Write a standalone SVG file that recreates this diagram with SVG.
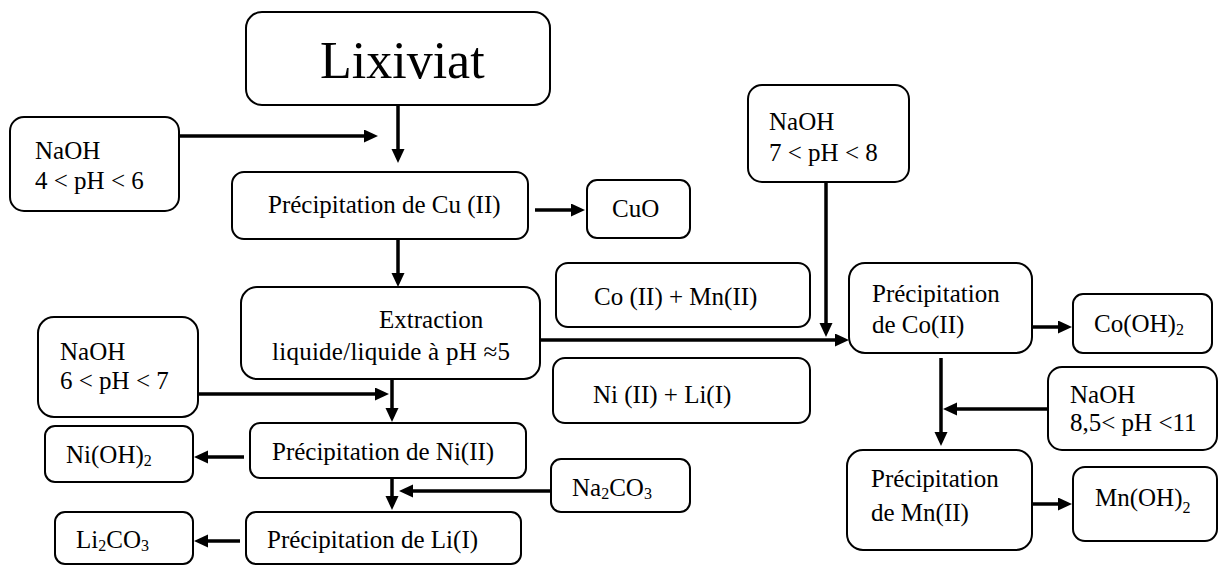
<svg xmlns="http://www.w3.org/2000/svg" width="1219" height="566" viewBox="0 0 1219 566">
<style>
.box{fill:#fff;stroke:#000;stroke-width:2}
.t{font-family:"Liberation Serif","Times New Roman",serif;font-size:25px;fill:#000}
.big{font-size:52px}
.sub{font-size:16px}
.c{fill:none;stroke:#000;stroke-width:3.5}
</style>
<defs>
<marker id="ah" markerUnits="userSpaceOnUse" markerWidth="16" markerHeight="14" refX="4" refY="6.5" orient="auto">
<path d="M0,0 L14,6.5 L0,13 z" fill="#000"/>
</marker>
</defs>
<rect width="1219" height="566" fill="#fff"/>
<g id="connectors">
<line class="c" x1="398" y1="100" x2="398" y2="153" marker-end="url(#ah)"/>
<line class="c" x1="179" y1="136" x2="368" y2="136" marker-end="url(#ah)"/>
<line class="c" x1="535" y1="210" x2="575" y2="210" marker-end="url(#ah)"/>
<line class="c" x1="398" y1="239" x2="398" y2="277" marker-end="url(#ah)"/>
<line class="c" x1="540" y1="340" x2="839" y2="340" marker-end="url(#ah)"/>
<line class="c" x1="826" y1="182" x2="826" y2="327" marker-end="url(#ah)"/>
<line class="c" x1="1032" y1="327" x2="1062" y2="327" marker-end="url(#ah)"/>
<line class="c" x1="198" y1="394" x2="379" y2="394" marker-end="url(#ah)"/>
<line class="c" x1="392" y1="379" x2="392" y2="412" marker-end="url(#ah)"/>
<line class="c" x1="244" y1="457" x2="204" y2="457" marker-end="url(#ah)"/>
<line class="c" x1="392" y1="478" x2="392" y2="500" marker-end="url(#ah)"/>
<line class="c" x1="551" y1="491" x2="409" y2="491" marker-end="url(#ah)"/>
<line class="c" x1="240" y1="541" x2="204" y2="541" marker-end="url(#ah)"/>
<line class="c" x1="941" y1="358" x2="941" y2="436" marker-end="url(#ah)"/>
<line class="c" x1="1048" y1="409" x2="953" y2="409" marker-end="url(#ah)"/>
<line class="c" x1="1032" y1="504" x2="1062" y2="504" marker-end="url(#ah)"/>
</g>
<g id="lixiviat"><rect class="box" x="246" y="12" width="304" height="93" rx="16"/><text class="t big" x="320" y="78">Lixiviat</text></g>
<g id="naoh1"><rect class="box" x="10" y="117" width="169" height="94" rx="14"/><text class="t" x="35" y="159">NaOH</text><text class="t" x="35" y="189">4 &lt; pH &lt; 6</text></g>
<g id="precip-cu"><rect class="box" x="232" y="172" width="296" height="67" rx="12"/><text class="t" x="268" y="213">Précipitation de Cu (II)</text></g>
<g id="cuo"><rect class="box" x="587" y="180" width="103" height="58" rx="10"/><text class="t" x="612" y="217">CuO</text></g>
<g id="naoh3"><rect class="box" x="748" y="85" width="161" height="97" rx="14"/><text class="t" x="769" y="130">NaOH</text><text class="t" x="769" y="161">7 &lt; pH &lt; 8</text></g>
<g id="comn"><rect class="box" x="556" y="263" width="254" height="64" rx="12"/><text class="t" x="594" y="305">Co (II) + Mn(II)</text></g>
<g id="extraction"><rect class="box" x="241" y="287" width="299" height="92" rx="16"/><text class="t" x="379" y="328">Extraction</text><text class="t" x="272" y="360" textLength="238" lengthAdjust="spacing">liquide/liquide  à pH ≈5</text></g>
<g id="precip-co"><rect class="box" x="849" y="263" width="183" height="90" rx="16"/><text class="t" x="872" y="302">Précipitation</text><text class="t" x="872" y="333">de Co(II)</text></g>
<g id="cooh2"><rect class="box" x="1073" y="294" width="139" height="59" rx="10"/><text class="t" x="1094" y="332">Co(OH)<tspan class="sub" dy="3">2</tspan></text></g>
<g id="naoh2"><rect class="box" x="38" y="317" width="160" height="100" rx="16"/><text class="t" x="60" y="360">NaOH</text><text class="t" x="60" y="389">6 &lt; pH &lt; 7</text></g>
<g id="nili"><rect class="box" x="553" y="358" width="257" height="65" rx="12"/><text class="t" x="593" y="403">Ni (II) + Li(I)</text></g>
<g id="precip-ni"><rect class="box" x="250" y="423" width="276" height="55" rx="10"/><text class="t" x="272" y="460">Précipitation de Ni(II)</text></g>
<g id="nioh2"><rect class="box" x="45" y="426" width="148" height="56" rx="10"/><text class="t" x="66" y="463">Ni(OH)<tspan class="sub" dy="3">2</tspan></text></g>
<g id="na2co3"><rect class="box" x="551" y="459" width="139" height="53" rx="10"/><text class="t" x="572" y="496">Na<tspan class="sub" dy="3">2</tspan><tspan dy="-3">CO</tspan><tspan class="sub" dy="3">3</tspan></text></g>
<g id="precip-li"><rect class="box" x="246" y="512" width="275" height="52" rx="10"/><text class="t" x="267" y="548">Précipitation de Li(I)</text></g>
<g id="li2co3"><rect class="box" x="55" y="512" width="138" height="52" rx="10"/><text class="t" x="76" y="548">Li<tspan class="sub" dy="3">2</tspan><tspan dy="-3">CO</tspan><tspan class="sub" dy="3">3</tspan></text></g>
<g id="naoh4"><rect class="box" x="1048" y="367" width="169" height="83" rx="14"/><text class="t" x="1070" y="403">NaOH</text><text class="t" x="1070" y="431">8,5&lt; pH &lt;11</text></g>
<g id="precip-mn"><rect class="box" x="847" y="450" width="185" height="100" rx="16"/><text class="t" x="871" y="487">Précipitation</text><text class="t" x="871" y="521">de Mn(II)</text></g>
<g id="mnoh2"><rect class="box" x="1073" y="467" width="144" height="74" rx="12"/><text class="t" x="1095" y="506">Mn(OH)<tspan class="sub" dy="7">2</tspan></text></g>
</svg>
